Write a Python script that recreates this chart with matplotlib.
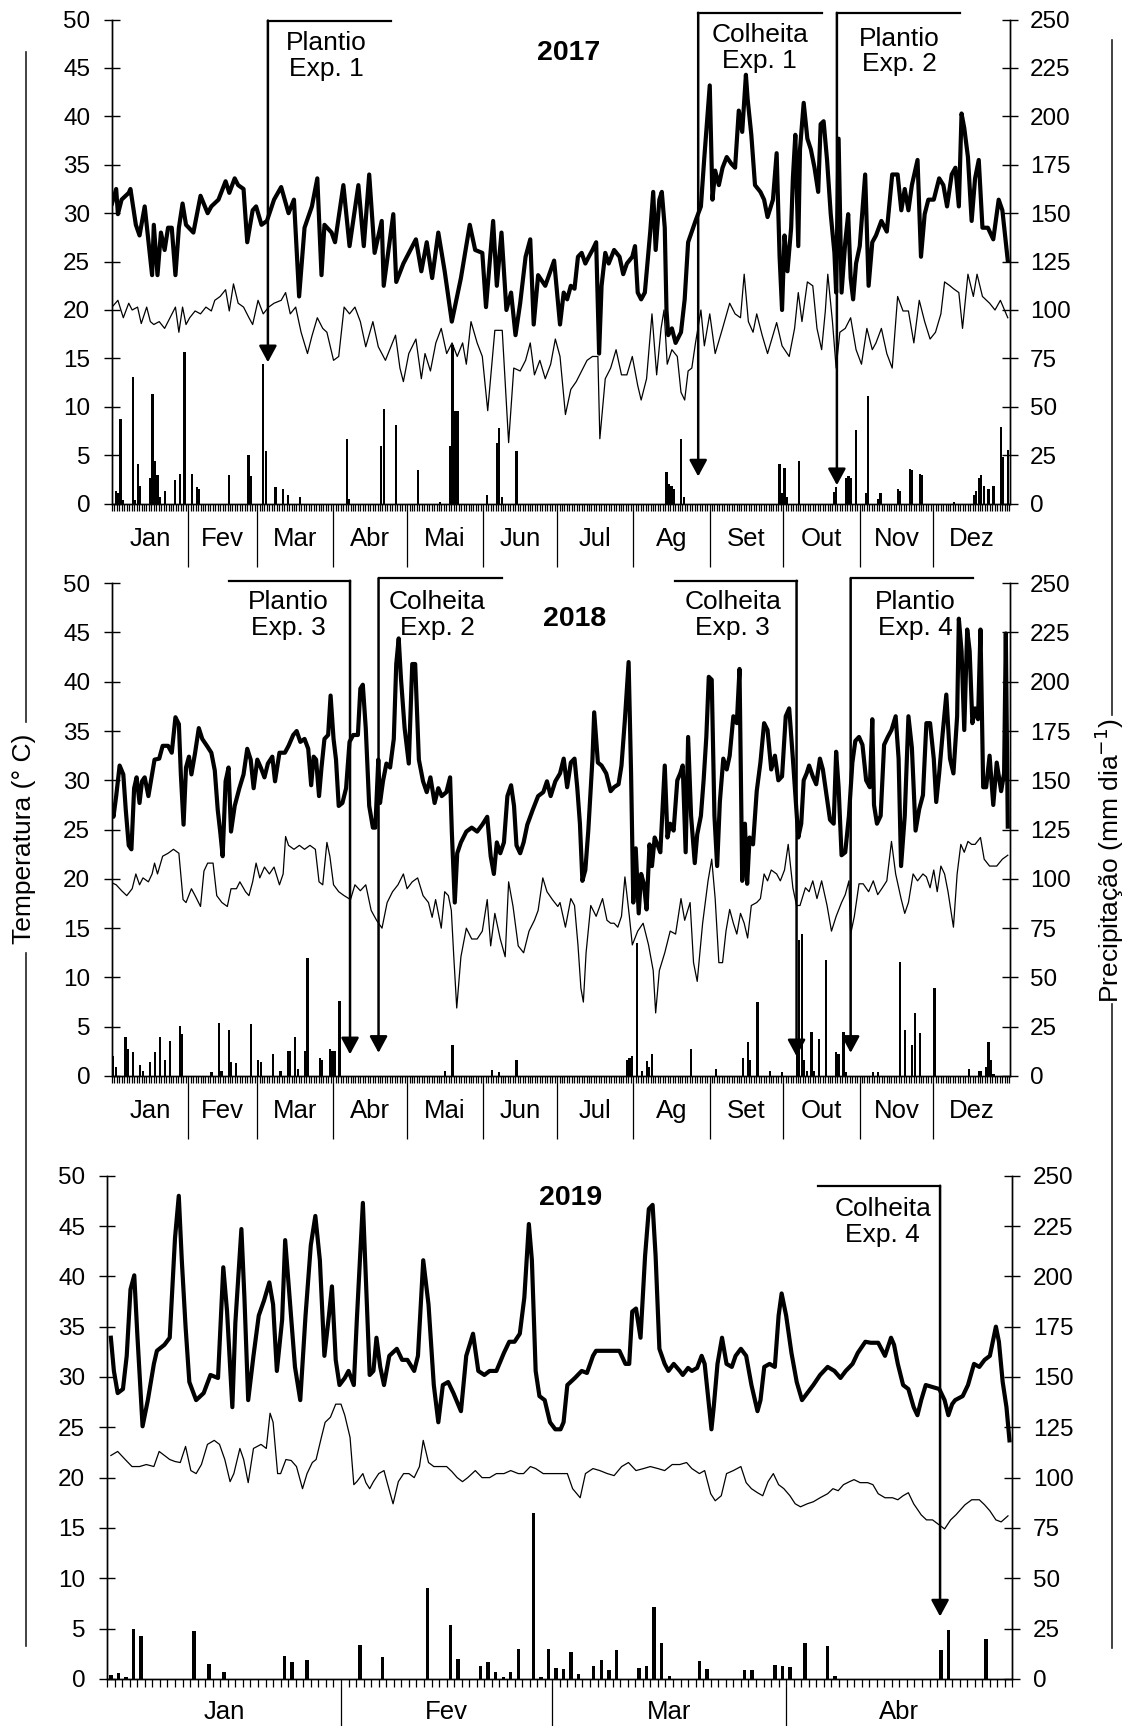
import matplotlib
matplotlib.use('Agg')
import matplotlib.pyplot as plt
from matplotlib.lines import Line2D
import numpy as np

plt.rcParams['font.family'] = ['Liberation Sans', 'DejaVu Sans']

W, H = 1126, 1726  # tamanho da figura em pixels

meses = ['Jan', 'Fev', 'Mar', 'Abr', 'Mai', 'Jun', 'Jul', 'Ag', 'Set', 'Out', 'Nov', 'Dez']
dias_mes = [31, 28, 31, 30, 31, 30, 31, 31, 30, 31, 30, 31]

# ---------------- 2017 ----------------  (dia do ano, valor)
tmax17 = [
    (0, 31.0), (1.7, 32.5), (2.4, 29.9), (3.9, 31.4), (6.8, 32.1), (7.5, 32.5), (9.7, 28.8), (11.2, 27.7),
    (13.3, 30.7), (15.2, 26.2), (16.3, 23.6), (17, 28.8), (18.5, 23.6), (19.9, 28.0), (21.4, 26.2),
    (22.8, 28.5), (24.3, 28.5), (25.8, 23.6), (27.2, 28.5), (28.7, 31.0), (30.1, 28.8), (33.1, 28.0),
    (36, 31.8), (38.9, 30.0), (40.4, 30.7), (43.3, 31.4), (46.2, 33.3), (47.7, 32.1), (49.9, 33.6),
    (51.3, 32.9), (53.5, 32.5), (55, 27.0), (57.2, 30.3), (58.6, 30.7), (60.8, 28.8), (63, 29.2),
    (65.9, 31.4), (68.8, 32.7), (71.8, 30.0), (74, 31.4), (76.1, 21.4), (78.3, 28.5), (81.3, 30.7),
    (83.5, 33.6), (85.2, 23.6), (86.4, 28.8), (89.3, 28.0), (90.7, 27.0), (94.1, 32.9), (96.6, 26.6),
    (100.2, 32.9), (102.4, 26.6), (104.6, 34.0), (106.8, 25.9), (109.7, 29.2), (110.5, 22.5),
    (114.4, 29.9), (115.6, 22.9), (118.5, 24.8), (123.6, 27.3), (125.8, 24.0), (128, 27.0),
    (130.2, 23.3), (132.7, 28.0), (135.3, 24.0), (138.2, 18.8), (141.9, 23.3), (145.5, 28.8),
    (147.7, 26.2), (150.6, 25.9), (152.1, 20.3), (155, 29.2), (156.5, 22.5), (158.4, 28.0),
    (160.4, 20.0), (162.3, 21.8), (164.1, 17.4), (166, 20.7), (168.2, 25.5), (170.1, 27.3),
    (171.5, 18.5), (173.3, 23.6), (176.2, 22.5), (179.8, 25.1),
    (182.2, 18.5), (183.7, 21.8), (185.1, 21.1), (186.6, 22.5), (188.1, 22.2), (189.5, 25.5), (191, 25.9),
    (192.5, 24.8), (193.9, 25.5), (195.4, 26.2), (196.9, 27.0), (198.1, 15.5), (199.1, 22.5),
    (200.6, 25.9), (202, 24.8), (204.2, 26.2), (206.4, 25.5), (207.9, 23.7), (209.4, 24.8),
    (211.6, 25.5), (212.7, 26.6), (213.8, 21.8), (215.2, 21.1), (216.7, 21.8), (218.9, 28.1),
    (220.1, 32.2), (221.1, 26.2), (222.6, 31.4), (223.6, 32.2), (224.8, 28.5), (225.5, 20.0),
    (226.2, 17.4), (227.7, 18.1), (229.2, 16.6), (231.4, 17.7), (232.9, 21.1), (234.3, 27.0),
    (235.8, 28.1), (237.3, 29.2), (239.5, 30.7), (240.9, 35.8), (242.1, 39.9), (243.1, 43.2),
    (244.2, 31.4), (245.3, 34.4), (246.8, 32.9), (248.3, 34.7), (250, 35.8), (251.9, 35.1),
    (253.4, 34.7), (254.9, 40.6), (256.3, 38.4), (257.8, 44.3), (258.5, 41.8), (260, 38.1),
    (261.5, 32.9), (263.7, 32.2), (265.2, 31.4), (266.6, 29.6), (268.8, 31.4), (270.3, 36.2),
    (271.5, 25.5), (272.5, 20.0), (273.5, 27.7), (274.7, 24.0), (276.2, 28.5), (276.9, 33.6),
    (277.9, 38.1), (279.1, 26.6), (279.8, 36.6), (281.3, 41.4), (282.8, 37.7), (284.2, 36.6),
    (285.7, 34.7), (287.2, 32.2), (288.2, 39.2), (289.4, 39.5), (290.8, 35.5), (292.3, 29.9),
    (293.8, 25.9), (294.5, 21.8), (295.5, 37.7), (296.7, 21.8), (298.2, 27.0), (299.4, 29.9),
    (300.4, 23.3), (301.4, 21.1), (302.6, 24.8), (304.1, 26.6), (306.3, 34.0), (307.7, 22.5),
    (309.2, 27.0), (310.7, 27.7), (312.9, 29.2), (315.1, 28.1), (317.3, 34.0), (319.5, 34.0),
    (321, 30.3), (322.4, 32.5), (323.9, 30.3), (325.3, 32.9), (327.6, 35.5), (329, 25.5),
    (330.5, 29.9), (332, 31.4), (334.2, 31.4), (336.4, 33.6), (338.1, 32.9), (339.6, 30.7),
    (341.5, 34.0), (343, 34.7), (344.4, 30.7), (345.5, 40.3), (346.6, 38.8), (348.1, 35.8),
    (349.6, 29.2), (351, 33.6), (352.5, 35.5), (354, 28.5), (356.2, 28.5), (358.4, 27.3),
    (360.6, 31.4), (362.1, 30.3), (364.3, 25.1),
]
tmin17 = [
    (0, 20.3), (2.4, 21.0), (4.6, 19.2), (6.8, 20.7), (8.2, 20.0), (10.4, 20.3), (11.9, 18.6), (14.1, 20.3),
    (15.6, 18.8), (17, 18.5), (19.2, 18.8), (21.4, 18.1), (23.6, 19.2), (25.8, 20.3), (27.2, 17.7),
    (28.7, 20.3), (30.1, 18.5), (31.6, 19.2), (33.8, 19.9), (36, 19.6), (38.2, 20.3), (40.4, 19.9),
    (41.8, 21.0), (44, 21.4), (46.2, 22.1), (47.7, 19.9), (49.4, 22.7), (51.3, 20.7), (53.5, 20.3),
    (55.7, 19.2), (57.2, 18.5), (59.4, 21.0), (61.5, 19.6), (63.7, 20.3), (65.9, 20.7), (68.8, 21.0),
    (70.6, 21.8), (72.5, 19.6), (74.7, 20.3), (76.9, 17.7), (79.5, 15.5), (81.3, 17.3), (83.5, 19.2),
    (85.7, 18.1), (87.4, 17.7), (90.1, 14.8), (92.2, 15.2), (94.4, 20.3), (96.6, 19.6), (98.8, 20.3),
    (101, 18.8), (103.2, 16.2), (106.1, 18.8), (108.3, 16.2), (111.2, 14.8), (113.4, 16.2),
    (115.3, 17.4), (117.1, 14.0), (118.5, 12.6), (120.7, 15.5), (123.6, 17.0), (125.8, 12.9),
    (127.3, 15.5), (129.5, 13.7), (131.7, 16.6), (133.9, 18.1), (136.1, 15.5), (138.3, 16.6),
    (140.4, 15.2), (142.6, 16.6), (144.1, 14.4), (146, 18.8), (148.5, 16.6), (150.6, 15.2),
    (152.8, 9.6), (155.7, 17.9), (158.7, 17.9), (161.3, 6.3), (163.4, 14.0), (166, 13.7),
    (168.2, 14.8), (170.1, 16.6), (171.8, 13.3), (174, 14.8), (176.2, 12.9), (178.4, 14.4), (180.3, 17.0),
    (182.2, 15.2), (184.4, 9.2), (186.6, 11.8), (188.8, 12.6), (191, 13.7), (193.2, 14.8), (195.4, 15.2),
    (197.6, 15.2), (198.4, 6.7), (200.6, 12.9), (202.8, 14.0), (205, 15.9), (207.2, 13.3), (209.4, 13.3),
    (211.6, 15.2), (213.8, 12.2), (215.2, 10.7), (217.4, 12.9), (219.6, 19.6), (221.5, 13.3),
    (223.3, 18.1), (224.5, 20.0), (225.8, 14.4), (227.7, 15.9), (229.9, 15.2), (231.4, 11.5),
    (232.9, 10.7), (234.3, 13.7), (235.8, 14.0), (237.3, 16.6), (239.5, 20.0), (240.9, 16.3),
    (243.1, 19.6), (245.3, 15.5), (248.3, 18.1), (251.2, 20.7), (253.4, 19.6), (255.6, 19.2),
    (257.1, 23.7), (258.8, 18.8), (260.7, 17.7), (262.2, 19.6), (264.4, 17.4), (266.6, 15.5),
    (268.8, 17.4), (270.3, 18.7), (272.5, 16.3), (275.4, 15.2), (277.6, 18.1), (279.1, 21.8),
    (280.6, 18.8), (282.8, 22.9), (285, 22.5), (286.7, 18.1), (288.6, 15.9), (290.1, 19.9),
    (291.1, 23.7), (293, 18.8), (294.5, 14.0), (296, 17.7), (298.2, 18.1), (300.4, 19.2),
    (302.6, 15.9), (304.8, 14.4), (307, 18.1), (309.2, 15.9), (310.7, 16.6), (312.9, 18.1),
    (315.1, 15.5), (317.3, 14.0), (319.5, 21.4), (321.7, 19.9), (323.9, 19.9), (326.1, 16.6),
    (328.3, 21.0), (330.5, 18.8), (332.7, 17.0), (334.9, 17.7), (337.1, 19.6), (338.6, 22.9),
    (340.8, 22.5), (342.2, 22.2), (344.4, 21.8), (345.9, 18.1), (348.1, 23.7), (350.3, 21.4),
    (351.8, 23.7), (354, 21.4), (356.9, 20.7), (359.1, 20.0), (361.3, 21.0), (364.3, 19.2),
]
chuva17 = [
    (1, 6.5), (2, 5.5), (3, 43.5), (4, 2), (8, 65.5), (9, 2), (10, 20.5), (11, 9), (15, 13), (16, 56.5),
    (17, 22), (18, 15), (19, 3.5), (21, 6.5), (25, 12), (27, 15.5), (29, 78.5), (32, 15.5), (34, 8.5),
    (35, 7.5), (47, 15), (55, 25), (56, 14), (61, 72), (62, 27), (66, 8.5), (69, 7.5), (71, 4.5),
    (76, 3.5), (95, 33.5), (96, 2.5), (109, 29.5), (110, 49), (115, 40.5), (124, 17.5), (133, 1),
    (137, 30), (138, 82), (139, 48), (140, 48), (152, 4.5), (156, 31.5), (157, 39), (158, 3.5),
    (164, 27), (225, 16.5), (226, 10), (227, 9), (228, 7.5), (231, 33.5), (232, 3.5), (271, 20.5),
    (272, 5.5), (273, 18.5), (274, 3.5), (279, 22), (293, 6), (294, 8.5), (298, 13), (299, 14),
    (300, 13), (302, 38), (306, 5.5), (307, 55.5), (311, 2.5), (312, 5.5), (319, 7.5), (320, 6.5),
    (324, 18), (325, 17.5), (328, 15.5), (329, 15), (342, 1), (350, 4.5), (351, 6.5), (352, 13),
    (353, 15), (354, 9), (356, 7.5), (358, 9), (361, 39.5), (362, 24), (364, 27.5),
]

# ---------------- 2018 ----------------
tmax18 = [
    (0, 27.0), (0.6, 26.3), (1.7, 28.4), (3.1, 31.5), (4.6, 30.6), (5.6, 27.0), (6.8, 23.4), (7.9, 23.0),
    (9, 29.2), (10, 30.3), (11.2, 27.7), (12.2, 29.9), (13.3, 30.3), (14.8, 28.4), (16.3, 30.6),
    (17.3, 32.1), (19.2, 32.2), (20.6, 33.5), (22.8, 33.5), (24.3, 32.8), (25.8, 36.4), (27.2, 35.7),
    (28, 30.6), (29.1, 25.5), (30.1, 31.3), (31.3, 32.4), (32.3, 30.6), (33.8, 32.8), (35.3, 35.3),
    (36.7, 34.2), (38.6, 33.5), (40.4, 32.8), (41.8, 31.0), (43, 27.0), (44, 24.8), (45, 22.3),
    (46.2, 29.9), (47.4, 31.3), (48.4, 24.8), (49.9, 27.4), (51.8, 29.2), (53.5, 30.6), (55, 33.2),
    (56.4, 32.1), (57.6, 29.2), (59.1, 32.1), (60.5, 31.3), (62, 30.3), (63.4, 31.7), (65.2, 32.4),
    (66.3, 29.9), (68.1, 32.8), (70.3, 32.8), (71.8, 33.5), (73.7, 34.6), (75.1, 35.0), (76.6, 33.9),
    (78.3, 34.2), (79.8, 33.2), (81, 29.5), (82, 32.4), (83, 32.1), (84.2, 28.4), (85.2, 31.3),
    (86.4, 34.2), (87.9, 34.6), (88.9, 38.6), (90.1, 34.2), (91.1, 32.1), (92.2, 27.4), (93.7, 27.7),
    (95.2, 29.2), (96.6, 33.9), (98.1, 34.6), (100, 34.6), (101, 39.3), (102, 39.7), (103.2, 35.3),
    (104.6, 27.4), (106.1, 25.2), (107.1, 25.2), (108.3, 32.1), (109, 27.7), (110.2, 29.9),
    (111.6, 31.7), (113.1, 31.3), (114.6, 34.2), (115.6, 41.8), (116.6, 44.4), (117.5, 40.4),
    (119, 35.3), (120.7, 31.7), (122.1, 41.8), (123.3, 41.8), (124.8, 32.1), (126.5, 29.9),
    (128, 28.8), (129.5, 30.3), (131.2, 27.7), (132.7, 29.2), (134.1, 28.4), (136, 28.8),
    (137.5, 30.3), (138.2, 24.8), (139.4, 17.6), (140.4, 22.6), (141.9, 23.7), (144.1, 24.8),
    (146.3, 25.2), (148.5, 24.8), (150.6, 25.5), (152.6, 26.3), (154, 22.3), (155.3, 20.5),
    (156.5, 23.7), (157.9, 22.6), (159.4, 23.7), (160.8, 28.4), (162.3, 29.5), (163.5, 27.4),
    (164.5, 23.4), (166, 22.6), (167.4, 23.7), (168.9, 25.5), (171.1, 27.0), (173.3, 28.4),
    (175.4, 28.8), (176.9, 29.9), (178.4, 28.4), (180.3, 29.9),
    (182.2, 30.7), (183.7, 32.2), (185.1, 29.3), (186.6, 31.8), (188.1, 32.2), (189.2, 29.3),
    (190.3, 25.6), (191.3, 19.8), (192.5, 20.9), (193.7, 24.9), (195.4, 32.2), (196.1, 36.9),
    (197.6, 31.8), (199.1, 31.5), (201, 30.7), (202.8, 28.9), (204.2, 29.3), (206, 29.6),
    (207.2, 31.5), (208.6, 36.2), (210.1, 42.0), (211.1, 30.7), (212, 17.6), (213, 23.1),
    (214.2, 16.5), (215.2, 20.5), (216.3, 19.5), (217.4, 16.9), (218.6, 23.5), (219.6, 21.3),
    (220.7, 24.2), (221.8, 23.5), (223, 22.7), (224.8, 31.5), (225.9, 24.2), (227, 25.6),
    (228.4, 24.9), (229.9, 30.0), (231.1, 30.7), (232.1, 31.5), (233.3, 22.7), (234.3, 34.4),
    (235.5, 26.4), (237, 21.6), (238, 24.5), (239.5, 26.4), (240.6, 30.0), (241.7, 34.4),
    (242.7, 40.5), (243.9, 40.2), (245, 26.4), (246.1, 21.3), (247.2, 27.8), (248.6, 32.2),
    (250, 31.1), (251.2, 32.5), (252.7, 36.5), (254.1, 35.8), (255.2, 41.3), (256.3, 19.8),
    (257.4, 25.6), (258.3, 19.5), (259.3, 24.2), (260.7, 23.5), (262.2, 28.9), (263.7, 31.8),
    (265.2, 35.8), (266.6, 35.1), (268.1, 31.1), (269.6, 32.5), (271, 30.0), (272.5, 30.4),
    (274, 36.5), (275.4, 37.3), (276.9, 32.2), (277.9, 28.5), (279.1, 24.2), (280.3, 25.6),
    (281.3, 30.0), (282.5, 30.7), (283.5, 31.5), (285, 30.4), (286.4, 29.6), (287.9, 32.2),
    (289.1, 31.1), (290.6, 28.5), (292, 26.0), (293.5, 25.6), (294.5, 32.9), (295.5, 29.3),
    (296.7, 22.4), (298.2, 22.7), (299.7, 26.4), (301.1, 31.8), (302.3, 34.0), (303.8, 34.4),
    (305.2, 33.6), (306.7, 30.0), (308.2, 29.3), (309.2, 36.2), (309.9, 27.5), (311.1, 25.6),
    (312.6, 26.4), (314, 33.6), (315.5, 34.4), (317, 35.1), (318.7, 36.5), (319.9, 32.2),
    (320.9, 21.3), (322.4, 26.4), (323.9, 36.5), (325.3, 33.3), (326.8, 24.9), (328.3, 27.1),
    (329.8, 28.5), (331.2, 35.8), (332.7, 35.8), (334.2, 32.2), (335.2, 27.8), (336.4, 30.7),
    (337.8, 34.7), (339.3, 38.7), (340.8, 32.2), (342.2, 30.7), (343.7, 36.5), (344.4, 46.4),
    (345.5, 43.1), (346.6, 35.1), (347.8, 45.3), (348.8, 43.1), (349.9, 35.8), (351, 37.3),
    (352.2, 36.2), (353.2, 45.3), (354.3, 29.3), (355.5, 29.3), (356.9, 32.5), (358.4, 27.5),
    (359.8, 31.8), (361.6, 28.9), (362.8, 30.7), (363.5, 44.9), (364.3, 25.3),
]
tmin18 = [
    (0, 19.6), (1.7, 19.4), (3.9, 18.8), (6, 18.3), (8.2, 19.0), (9.7, 20.5), (11.2, 19.4), (12.6, 20.1),
    (14.8, 19.7), (16.3, 20.5), (17.3, 21.6), (18.5, 20.5), (20.6, 22.3), (22.8, 22.6), (25, 23.0),
    (27.2, 22.6), (28.9, 17.9), (30.1, 17.6), (32.3, 19.0), (33.8, 18.3), (36, 17.2), (37.4, 20.8),
    (38.9, 21.6), (41.1, 21.6), (42.6, 18.3), (44.7, 17.6), (46.9, 17.2), (48.4, 19.0), (50.6, 19.0),
    (52, 19.7), (54.3, 18.7), (55.7, 18.3), (57.2, 19.7), (58.6, 21.6), (60.1, 20.1), (62, 21.2),
    (64, 20.5), (65.9, 21.2), (68.1, 19.4), (69.6, 20.5), (70.6, 24.3), (71.8, 23.4), (74, 23.0),
    (76.2, 23.4), (78.3, 23.0), (80.5, 23.4), (82.7, 23.0), (84.2, 19.7), (85.7, 19.4), (87.4, 23.7),
    (88.6, 22.3), (90.1, 19.4), (92.2, 18.7), (94.4, 18.3), (97, 17.9), (98.8, 19.4), (101, 18.8),
    (103.2, 19.4), (105.4, 16.8), (107.6, 15.8), (109.8, 15.0), (111.9, 17.6), (114.1, 18.7),
    (116.3, 19.4), (118.5, 20.5), (120, 19.0), (122.1, 19.7), (124.3, 20.1), (126.5, 18.3),
    (128.7, 17.6), (130.2, 16.1), (131.6, 17.9), (133.9, 15.0), (135.3, 18.7), (136.8, 18.3),
    (138, 16.8), (139, 12.1), (140.2, 6.9), (141.9, 12.1), (144.1, 15.0), (146.3, 13.9),
    (148.5, 13.9), (150.6, 14.7), (152.6, 17.9), (154, 13.2), (155.7, 16.5), (157.9, 13.9),
    (159.9, 12.1), (161.3, 19.7), (163.1, 17.2), (165.2, 13.2), (167.4, 12.5), (169.6, 14.7),
    (171.8, 15.8), (173.3, 16.8), (175.2, 20.1), (176.9, 18.7), (179.1, 17.9), (181.3, 17.2),
    (182.2, 17.6), (184.4, 15.1), (186.6, 18.0), (188.1, 17.3), (189.5, 13.3), (190.7, 8.9),
    (191.7, 7.5), (192.8, 12.5), (194.7, 17.3), (196.9, 16.2), (199.5, 18.0), (201.3, 15.8),
    (202.8, 15.5), (204.2, 15.5), (205.7, 15.1), (207.2, 16.2), (208.6, 20.2), (210.4, 16.2),
    (211.6, 13.3), (213.8, 14.7), (216, 15.5), (218.2, 13.3), (220.1, 10.7), (221.1, 6.4),
    (222.6, 10.7), (224.8, 12.5), (227, 14.7), (229.2, 14.4), (231.4, 18.0), (232.9, 15.8),
    (235.1, 17.6), (236.5, 11.5), (238, 9.6), (240.2, 15.5), (242.4, 19.8), (243.9, 22.0),
    (245.3, 18.0), (246.8, 11.5), (248.3, 11.5), (249.7, 14.7), (251.2, 16.9), (252.7, 15.5),
    (254.1, 14.4), (255.6, 16.5), (257.1, 15.5), (258.5, 14.0), (260, 17.3), (262.2, 17.6),
    (263.7, 18.0), (265.2, 20.5), (266.6, 19.8), (268.1, 20.9), (270.3, 20.5), (271.8, 19.8),
    (273.5, 20.9), (275, 23.5), (276.9, 19.1), (278.4, 17.3), (279.8, 17.3), (282, 19.1),
    (283.5, 18.7), (285, 19.8), (286.7, 18.0), (288.6, 19.8), (290.8, 17.3), (292.6, 14.7),
    (294.5, 16.2), (296.7, 17.6), (298.2, 18.4), (299.7, 19.8), (300.4, 14.4), (301.9, 16.2),
    (303.8, 19.5), (305.5, 19.5), (307.7, 18.7), (309.6, 19.8), (311.4, 18.4), (313.3, 19.1),
    (315.1, 19.8), (317, 23.8), (318.7, 20.5), (320.9, 18.0), (322.4, 16.5), (323.9, 17.6),
    (325.8, 20.5), (327.6, 19.8), (329.8, 20.5), (331.2, 20.2), (332.7, 19.1), (334.2, 20.9),
    (335.6, 18.7), (337.1, 21.3), (338.6, 20.5), (340, 18.7), (342.2, 15.1), (343.7, 20.5),
    (345.2, 23.5), (346.6, 22.7), (348.1, 23.8), (349.6, 23.5), (351, 23.5), (353.2, 24.2),
    (354.7, 22.0), (356.9, 21.3), (359.8, 21.3), (362.1, 22.0), (364.3, 22.4),
]
chuva18 = [
    (0, 10), (1, 4.5), (5, 20), (6, 13.5), (8, 12), (11, 5.5), (12, 2.5), (15, 7), (17, 12), (19, 20),
    (21, 8), (23, 18), (27, 25.5), (28, 21.5), (40, 2), (43, 27), (44, 2.5), (47, 23.5), (48, 7),
    (50, 6.5), (56, 26.5), (59, 8), (60, 7), (65, 11), (68, 2.5), (71, 12.5), (72, 12.5), (74, 20),
    (75, 3.5), (78, 12.5), (79, 60), (84, 9), (85, 8), (88, 13.5), (89, 12.5), (90, 12.5), (92, 38),
    (135, 2.5), (138, 15.5), (154, 3), (157, 2), (164, 8),
    (209, 8), (210, 9), (211, 10), (213, 67.5), (215, 2.5), (217, 7.5), (218, 4.5), (219, 11),
    (235, 13.5), (245, 3.5), (256, 9), (258, 17.5), (259, 8), (262, 37.5), (267, 2.5), (272, 2),
    (278, 13.5), (279, 69), (280, 72), (281, 8), (282, 2.5), (284, 22.5), (285, 2.5), (287, 19),
    (290, 59), (294, 12), (295, 11), (297, 22.5), (298, 2), (309, 2), (311, 2), (320, 58),
    (322, 23.5), (325, 15.5), (326, 32), (328, 22), (334, 44.5), (348, 3.5), (352, 2.5), (353, 2.5),
    (355, 4.5), (356, 17.5), (357, 8), (358, 1),
]

# ---------------- 2019 (jan-abr) ----------------
tmax19 = [
    (0.5, 33.9), (0.9, 30.6), (1.4, 28.4), (2.1, 28.8), (2.6, 32.1), (3.1, 38.7), (3.6, 40.1), (4.0, 34.3),
    (4.7, 25.1), (5.4, 27.7), (6.2, 31.3), (6.6, 32.6), (7.6, 33.2), (8.3, 33.9), (9.0, 43.8), (9.5, 48.0),
    (9.9, 41.6), (10.4, 35.0), (10.9, 29.5), (11.8, 27.7), (12.8, 28.4), (13.7, 30.2), (14.7, 29.9),
    (15.4, 40.9), (15.9, 36.5), (16.6, 27.0), (17.0, 35.4), (17.8, 44.7), (18.2, 37.9), (18.7, 27.7),
    (19.4, 32.1), (20.1, 36.1), (20.8, 37.6), (21.5, 39.4), (22.0, 37.2), (22.5, 30.6), (23.2, 35.7),
    (23.6, 43.6), (24.1, 38.7), (24.9, 31.0), (25.6, 27.7), (26.3, 36.1), (27.0, 43.1), (27.6, 46.0),
    (28.2, 41.6), (28.8, 32.1), (29.4, 36.1), (29.8, 39.0), (30.3, 31.7), (30.8, 29.2), (31.5, 29.9),
    (32.0, 30.6), (32.7, 29.2), (33.1, 35.7), (33.9, 47.3), (34.3, 39.8), (34.8, 30.2), (35.3, 30.6),
    (35.7, 33.9), (36.2, 31.0), (36.7, 29.2), (37.4, 32.1), (38.4, 32.8), (39.1, 31.7), (39.8, 31.7),
    (40.7, 30.6), (41.2, 32.1), (41.9, 41.6), (42.6, 37.2), (43.3, 29.2), (43.9, 25.5), (44.5, 29.2),
    (45.2, 29.5), (45.9, 28.4), (46.9, 26.6), (47.6, 32.1), (48.5, 34.3), (49.2, 30.6), (50.0, 30.2),
    (50.7, 30.6), (51.6, 30.6), (52.6, 32.4), (53.3, 33.5), (54.0, 33.5), (54.7, 34.3), (55.3, 37.9),
    (55.9, 45.2), (56.3, 41.6), (56.8, 30.6), (57.3, 28.1), (58.0, 27.7), (58.7, 25.5), (59.4, 24.8),
    (60.1, 24.8), (60.5, 25.5), (61.0, 29.2), (62.0, 29.9), (62.9, 30.6), (63.6, 30.4), (64.4, 32.1),
    (64.8, 32.6), (65.3, 32.6), (66.3, 32.6), (67.9, 32.6), (68.7, 31.3), (69.2, 31.3), (69.6, 36.5),
    (70.1, 36.8), (70.7, 33.9), (71.3, 42.0), (71.8, 46.7), (72.3, 47.1), (72.7, 42.0), (73.2, 32.8),
    (73.9, 31.3), (74.4, 30.6), (75.1, 31.3), (75.9, 30.6), (76.3, 30.2), (77.0, 30.9), (77.5, 30.6),
    (78.2, 30.9), (78.8, 32.1), (79.2, 31.3), (79.7, 27.7), (80.1, 24.8), (80.4, 27.0), (80.9, 31.3),
    (81.5, 33.9), (82.1, 31.3), (82.8, 31.0), (83.3, 32.1), (84.0, 32.8), (84.7, 32.1), (85.4, 29.2),
    (86.2, 26.6), (86.6, 27.7), (87.1, 31.0), (87.8, 31.3), (88.5, 31.0), (89.0, 36.1), (89.4, 38.3),
    (90.0, 36.1), (90.7, 32.4), (91.4, 29.5), (92.1, 27.7), (92.8, 28.4), (93.6, 29.2), (94.5, 30.2),
    (95.5, 31.0), (96.4, 30.6), (97.2, 29.9), (97.9, 30.6), (98.8, 31.3), (99.5, 32.4), (100.5, 33.5),
    (101.2, 33.4), (102.2, 33.4), (103.1, 32.1), (103.9, 33.9), (104.3, 33.2), (104.8, 31.3),
    (105.5, 29.2), (106.2, 28.8), (106.9, 27.0), (107.4, 26.2), (107.9, 27.7), (108.5, 29.2),
    (109.4, 29.0), (110.3, 28.8), (111.0, 27.7), (111.5, 26.2), (112.0, 27.3), (112.4, 27.7),
    (113.4, 28.1), (114.1, 29.2), (114.9, 31.3), (115.6, 31.0), (116.3, 31.7), (117.0, 32.1),
    (117.8, 35.0), (118.2, 33.5), (118.7, 29.5), (119.2, 27.0), (119.6, 23.7),
]
tmin19 = [
    (0.5, 22.2), (1.4, 22.6), (2.4, 21.8), (3.3, 21.1), (4.3, 21.1), (5.2, 21.3), (6.2, 21.1), (6.9, 22.6),
    (7.6, 22.2), (8.3, 21.8), (9.0, 21.6), (9.7, 21.5), (10.4, 23.1), (11.1, 20.7), (11.8, 20.4),
    (12.5, 21.3), (13.3, 23.3), (14.2, 23.7), (14.9, 23.3), (15.6, 21.8), (16.3, 19.6), (16.8, 20.4),
    (17.6, 22.9), (18.1, 21.8), (18.7, 19.5), (19.4, 22.9), (20.4, 23.3), (21.1, 22.9), (21.6, 26.4),
    (22.0, 25.5), (22.6, 20.4), (23.0, 20.4), (23.7, 21.8), (24.4, 21.7), (25.1, 21.1), (25.9, 18.9),
    (26.5, 20.4), (27.2, 21.5), (27.7, 21.8), (28.4, 24.0), (28.9, 25.5), (29.6, 26.0), (30.3, 27.3),
    (31.0, 27.3), (31.5, 26.2), (32.2, 24.0), (32.7, 19.3), (33.1, 19.6), (33.9, 20.4), (34.3, 19.5),
    (34.8, 18.9), (35.3, 19.6), (36.0, 20.4), (36.7, 20.7), (37.2, 19.3), (37.9, 17.4), (38.6, 19.6),
    (39.3, 20.4), (40.0, 20.4), (40.7, 20.0), (41.4, 21.1), (41.9, 23.7), (42.6, 21.5), (43.3, 21.1),
    (44.3, 21.1), (45.0, 21.1), (45.7, 20.6), (46.4, 20.0), (47.1, 19.6), (47.8, 20.0), (48.8, 20.7),
    (49.7, 20.0), (50.7, 20.0), (51.6, 20.4), (52.6, 20.4), (53.5, 20.7), (54.5, 20.4), (55.2, 20.4),
    (56.1, 21.1), (56.8, 20.9), (57.8, 20.4), (58.7, 20.4), (59.7, 20.4),
    (61.0, 20.4), (61.7, 18.9), (62.7, 18.0), (63.4, 20.4), (64.4, 20.9), (65.3, 20.7), (66.3, 20.4),
    (67.2, 20.2), (68.2, 21.1), (69.1, 21.5), (70.1, 20.7), (71.1, 20.9), (72.0, 21.1), (73.0, 20.9),
    (73.9, 20.7), (74.9, 21.3), (75.9, 21.3), (76.8, 21.5), (77.5, 20.9), (78.5, 20.4), (79.2, 20.7),
    (80.0, 18.4), (80.6, 17.7), (81.4, 18.2), (82.1, 20.4), (83.0, 20.7), (84.0, 21.1), (84.7, 19.5),
    (85.4, 18.9), (86.2, 18.5), (86.9, 18.2), (87.6, 19.6), (88.3, 20.4), (89.0, 19.3), (89.7, 18.9),
    (90.5, 18.2), (91.2, 17.4), (91.9, 17.1), (92.8, 17.4), (93.6, 17.6), (94.5, 18.0), (95.5, 18.4),
    (96.2, 18.9), (96.9, 18.7), (97.6, 19.3), (98.4, 19.6), (99.0, 19.8), (99.8, 19.5), (100.8, 19.5),
    (101.5, 19.3), (102.2, 18.4), (103.1, 18.0), (104.1, 18.0), (104.8, 17.8), (105.5, 18.2),
    (106.2, 18.5), (106.9, 17.4), (107.9, 16.3), (108.6, 15.8), (109.4, 15.8), (110.3, 15.3),
    (111.0, 14.9), (111.8, 15.8), (112.5, 16.3), (113.7, 17.3), (114.6, 17.8), (115.6, 17.8),
    (116.3, 17.3), (117.0, 16.7), (117.8, 15.8), (118.5, 15.6), (119.4, 16.2),
]
chuva19 = [
    (0, 2), (1, 3), (2, 1), (3, 25), (4, 21.5), (11, 24), (13, 7.5), (15, 3.5), (23, 11.5), (24, 8.5),
    (26, 9.5), (33, 17), (36, 11), (42, 45), (45, 27), (46, 10), (49, 6.5), (50, 8.5), (51, 3.5),
    (52, 1), (53, 3.5), (54, 15), (56, 82.5), (57, 1), (58, 15), (59, 5.5), (60, 5), (61, 13.5),
    (62, 2.5), (64, 6.5), (65, 9.5), (66, 4.5), (67, 14.5), (70, 5.5), (71, 6.5), (72, 35.5), (73, 18),
    (74, 1.5), (78, 9), (79, 5), (84, 4.5), (85, 4.5), (88, 7), (89, 6.5), (90, 6), (92, 18),
    (95, 16.5), (96, 1.5), (110, 14.5), (111, 24.5), (116, 20),
]

# anotacoes: texto, x da seta, x do fim do traco, y do traco, ponta da seta, x e y do texto
notas17 = [('Plantio\nExp. 1', 63.4, 113.5, 49.9, 14.6, 87, 46.2),
           ('Colheita\nExp. 1', 238.4, 288.6, 50.7, 2.8, 263.4, 47.1),
           ('Plantio\nExp. 2', 294.8, 344.7, 50.7, 1.9, 320.2, 46.7)]
notas18 = [('Plantio\nExp. 3', 96.8, 47.4, 50.25, 2.2, 71.8, 46.8),
           ('Colheita\nExp. 2', 108.4, 158.5, 50.5, 2.35, 132.4, 46.8),
           ('Colheita\nExp. 3', 278.4, 228.9, 50.25, 2.0, 252.4, 46.8),
           ('Plantio\nExp. 4', 300.4, 350.3, 50.5, 2.35, 326.8, 46.8)]
notas19 = [('Colheita\nExp. 4', 110.4, 94.2, 49.0, 6.2, 102.8, 45.4)]


def rect_px(left, right, top, bottom):
    return [left / W, 1 - bottom / H, (right - left) / W, (bottom - top) / H]


def painel(fig, rect, n_meses, tmax, tmin, chuva, larg, ano, pos_ano, notas, mtick, sep, off):
    ax = fig.add_axes(rect)
    ax2 = ax.twinx()
    lim = np.concatenate([[0], np.cumsum(dias_mes[:n_meses])])
    n_dias = lim[-1]

    d, v = zip(*tmin)
    ax.plot(d, v, color='black', lw=0.9, zorder=3)
    d, v = zip(*tmax)
    ax.plot(d, v, color='black', lw=3.0, zorder=4, solid_joinstyle='round')
    d, v = zip(*chuva)
    ax2.bar(np.array(d) + 0.5, v, width=larg, color='black', linewidth=0)

    ax.set_xlim(0, n_dias)
    ax.set_ylim(0, 50)
    ax2.set_ylim(0, 250)
    ax.set_yticks(range(0, 51, 5))
    ax2.set_yticks(range(0, 251, 25))
    for a in (ax, ax2):
        a.spines['top'].set_visible(False)
        for s in a.spines.values():
            s.set_linewidth(1.0)
    ax.tick_params(axis='y', direction='inout', length=11.5, width=1, labelsize=17.5, pad=10)
    ax2.tick_params(axis='y', direction='inout', length=11.5, width=1, labelsize=17.5, pad=9)

    ax.set_xticks(lim[1:-1])
    ax.set_xticks(np.arange(n_dias + 1), minor=True)
    ax.tick_params(axis='x', which='major', direction='out', length=sep, width=0.9, labelbottom=False)
    ax.tick_params(axis='x', which='minor', direction='out', length=mtick, width=0.9)
    for i in range(n_meses):
        meio = (lim[i] + lim[i + 1]) / 2
        ax.annotate(meses[i], xy=(meio, 0), xycoords=('data', 'axes fraction'),
                    xytext=(0, -off), textcoords='offset points', ha='center', va='center',
                    fontsize=18.5, annotation_clip=False)

    ax.text(pos_ano[0], pos_ano[1], ano, fontsize=20.5, fontweight='bold', ha='center', va='center')

    for txt, xv, xf, top, tip, tx, ty in notas:
        ax.plot([xf, xv], [top, top], color='black', lw=1.6, clip_on=False, zorder=6,
                solid_capstyle='projecting')
        ax.annotate('', xy=(xv, tip), xytext=(xv, top),
                    arrowprops=dict(arrowstyle='-|>,head_length=0.5,head_width=0.27', color='black',
                                    lw=1.8, shrinkA=0, shrinkB=0, mutation_scale=20),
                    annotation_clip=False, zorder=6)
        ax.text(tx, ty, txt, fontsize=19, ha='center', va='center', linespacing=1.1,
                multialignment='center', zorder=7)
    return ax


fig = plt.figure(figsize=(W / 100, H / 100), dpi=100)

painel(fig, rect_px(112, 1009.5, 19.6, 503.6), 12, tmax17, tmin17, chuva17, 0.9,
       '2017', (185.5, 46.6), notas17, 5, 45, 25.5)
painel(fig, rect_px(112, 1009.5, 583.2, 1076), 12, tmax18, tmin18, chuva18, 0.9,
       '2018', (188.2, 46.4), notas18, 5, 45, 25.5)
painel(fig, rect_px(107.1, 1012.5, 1175.7, 1678.9), 4, tmax19, tmin19, chuva19, 0.45,
       '2019', (61.4, 47.8), notas19, 6, 40, 24)

# titulos laterais com tracos
cor = '#222222'
for x, y1, y2 in [(25.7, 52, 722), (25.7, 953, 1646), (1111.6, 40, 715), (1111.6, 1004, 1648)]:
    fig.add_artist(Line2D([x / W, x / W], [1 - y1 / H, 1 - y2 / H], transform=fig.transFigure,
                          color=cor, lw=1.2))
fig.text(24 / W, 1 - 839 / H, 'Temperatura (° C)', rotation=90, ha='center', va='center', fontsize=19)
fig.text(1109 / W, 1 - 860.5 / H, 'Precipitação (mm dia$^{-1}$)', rotation=90, ha='center',
         va='center', fontsize=19)

fig.savefig('out.png', dpi=100)
